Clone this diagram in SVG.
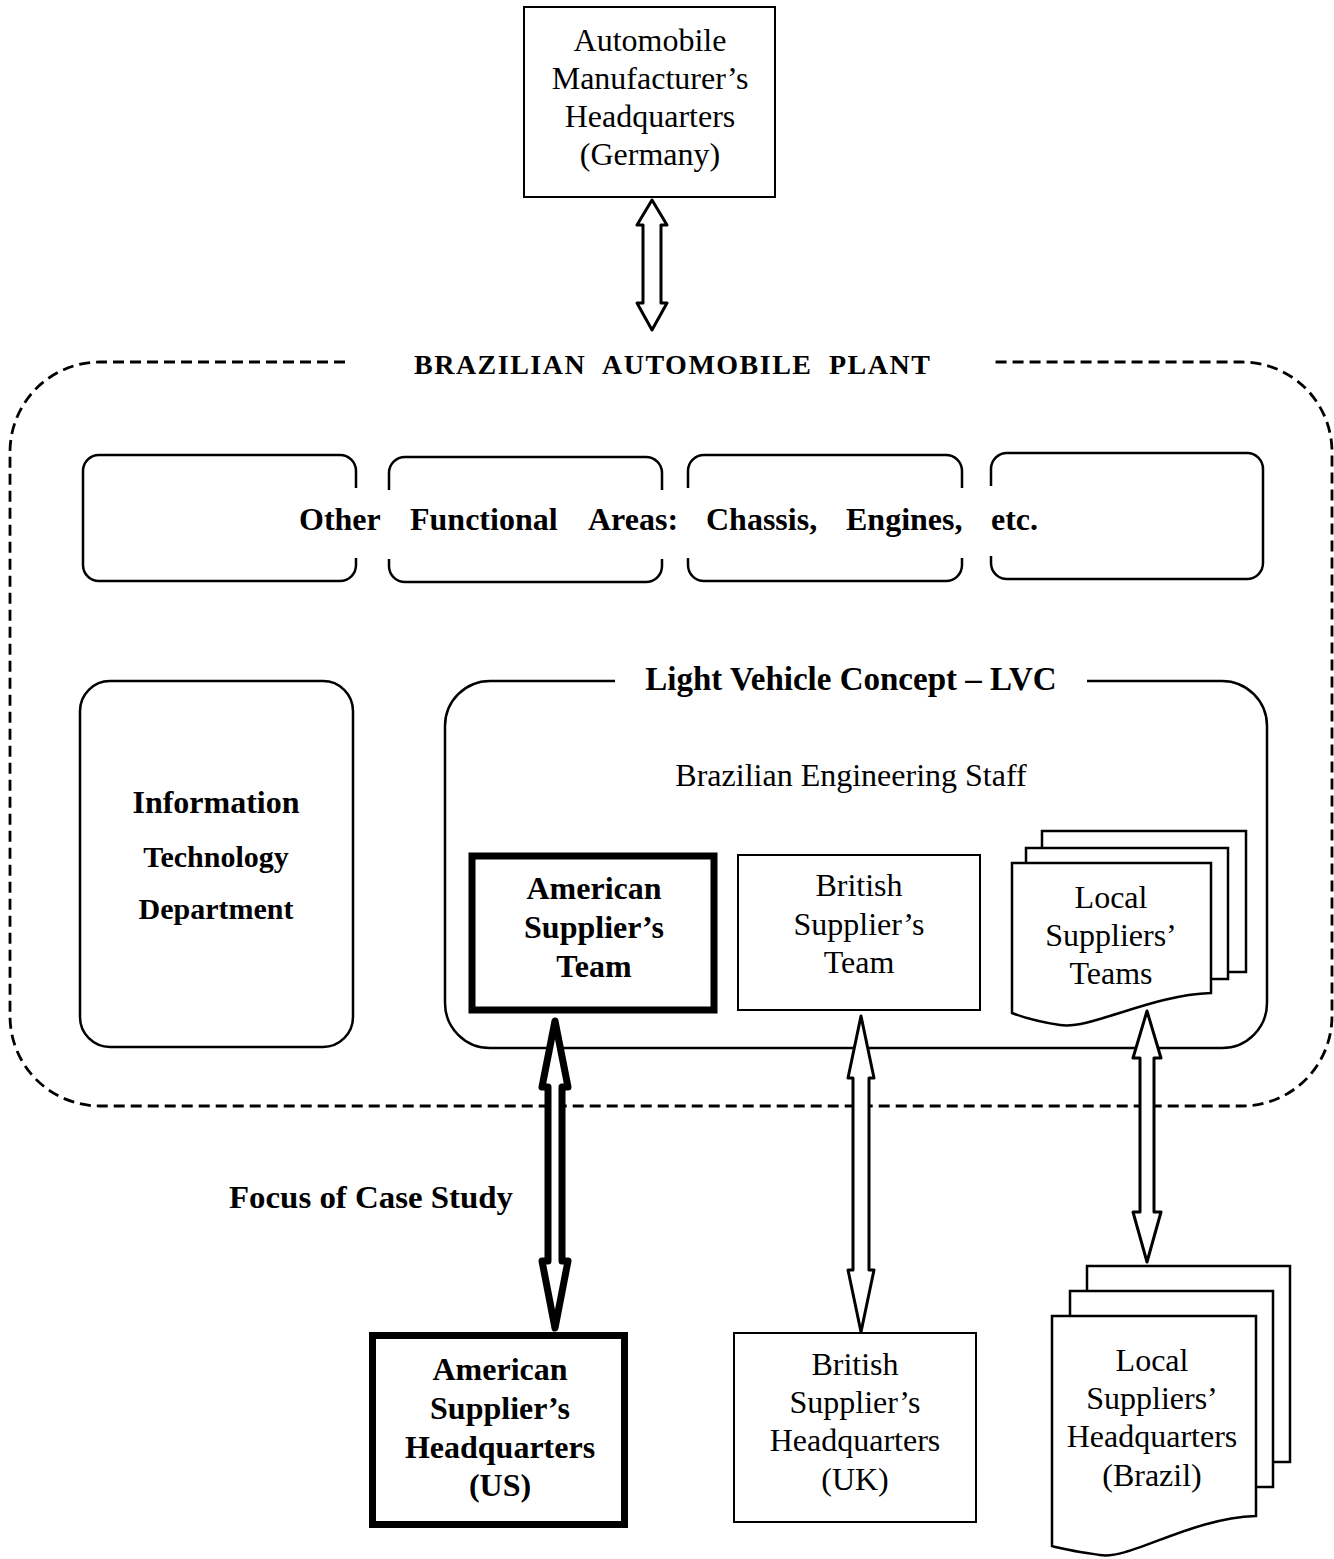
<svg xmlns="http://www.w3.org/2000/svg" width="1334" height="1559" viewBox="0 0 1334 1559">
<style>
text{font-family:"Liberation Serif","Times New Roman",serif;fill:#000;font-size:32px;text-anchor:middle}
.b{font-weight:bold}
.bx{fill:#fff;stroke:#000;stroke-width:2.5}
.ln{fill:none;stroke:#000;stroke-width:2.5}
.arr{fill:#fff;stroke:#000;stroke-width:3;stroke-linejoin:round}
.thick{fill:#fff;stroke:#000;stroke-width:7;stroke-linejoin:round}
.dash{fill:none;stroke:#000;stroke-width:2.8;stroke-dasharray:11 6}
</style>
<rect x="0" y="0" width="1334" height="1559" fill="#fff"/>

<g id="plant">
<path class="dash" d="M345,362 H100 A90,90 0 0 0 10,452 V1016 A90,90 0 0 0 100,1106 H1242 A90,90 0 0 0 1332,1016 V452 A90,90 0 0 0 1242,362 H995"/>
<text class="b" style="font-size:28px;letter-spacing:1.5px;text-anchor:start" y="374"><tspan x="414">BRAZILIAN</tspan><tspan x="602">AUTOMOBILE</tspan><tspan x="829">PLANT</tspan></text>
</g>

<g id="germany-hq">
<rect class="bx" x="524" y="7" width="251" height="190" style="stroke-width:2"/>
<text x="650" y="51">Automobile</text>
<text x="650" y="89">Manufacturer’s</text>
<text x="650" y="127">Headquarters</text>
<text x="650" y="165">(Germany)</text>
</g>

<g id="other-areas">
<path class="ln" d="M356,488 V471 A16,16 0 0 0 340,455 H99 A16,16 0 0 0 83,471 V565 A16,16 0 0 0 99,581 H340 A16,16 0 0 0 356,565 V558"/>
<path class="ln" d="M389,490 V473 A16,16 0 0 1 405,457 H646 A16,16 0 0 1 662,473 V490 M389,559 V566 A16,16 0 0 0 405,582 H646 A16,16 0 0 0 662,566 V559"/>
<path class="ln" d="M688,488 V471 A16,16 0 0 1 704,455 H946 A16,16 0 0 1 962,471 V488 M688,558 V565 A16,16 0 0 0 704,581 H946 A16,16 0 0 0 962,565 V558"/>
<path class="ln" d="M991,486 V469 A16,16 0 0 1 1007,453 H1247 A16,16 0 0 1 1263,469 V563 A16,16 0 0 1 1247,579 H1007 A16,16 0 0 1 991,563 V556"/>
<text class="b" style="text-anchor:start" y="530"><tspan x="299">Other</tspan><tspan x="410">Functional</tspan><tspan x="588">Areas:</tspan><tspan x="706">Chassis,</tspan><tspan x="846">Engines,</tspan><tspan x="991">etc.</tspan></text>
</g>

<g id="it-department">
<rect class="bx" x="80" y="681" width="273" height="366" rx="30"/>
<text class="b" x="216" y="813">Information</text>
<text class="b" x="216" y="867" style="font-size:30px">Technology</text>
<text class="b" x="216" y="919" style="font-size:30px">Department</text>
</g>

<g id="lvc">
<path class="ln" d="M615,681 H490 A45,45 0 0 0 445,726 V1003 A45,45 0 0 0 490,1048 H1222 A45,45 0 0 0 1267,1003 V726 A45,45 0 0 0 1222,681 H1087"/>
<text class="b" x="851" y="690" style="font-size:33px">Light Vehicle Concept – LVC</text>
<text x="851" y="786">Brazilian Engineering Staff</text>
</g>

<g id="american-team">
<rect x="472" y="856" width="242" height="154" fill="#fff" stroke="#000" stroke-width="7"/>
<text class="b" x="594" y="899">American</text>
<text class="b" x="594" y="938">Supplier’s</text>
<text class="b" x="594" y="977">Team</text>
</g>

<g id="british-team">
<rect class="bx" x="738" y="855" width="242" height="155" style="stroke-width:2"/>
<text x="859" y="896">British</text>
<text x="859" y="935">Supplier’s</text>
<text x="859" y="973">Team</text>
</g>

<g id="local-teams">
<rect class="bx" x="1042" y="831" width="204" height="141"/>
<rect class="bx" x="1026" y="848" width="202" height="131"/>
<path class="bx" d="M1012,863 H1211 V993 C1150,995 1090,1030 1060,1025 C1040,1022 1025,1018 1012,1013 Z"/>
<text x="1111" y="908">Local</text>
<text x="1111" y="946">Suppliers’</text>
<text x="1111" y="984">Teams</text>
</g>

<g id="focus-label">
<text class="b" x="229" y="1208" style="text-anchor:start" textLength="284" lengthAdjust="spacingAndGlyphs">Focus of Case Study</text>
</g>

<g id="american-hq">
<rect x="372.5" y="1335.5" width="252" height="189" fill="#fff" stroke="#000" stroke-width="7"/>
<text class="b" x="500" y="1380">American</text>
<text class="b" x="500" y="1419">Supplier’s</text>
<text class="b" x="500" y="1458">Headquarters</text>
<text class="b" x="500" y="1496">(US)</text>
</g>

<g id="british-hq">
<rect class="bx" x="734" y="1333" width="242" height="189" style="stroke-width:2"/>
<text x="855" y="1375">British</text>
<text x="855" y="1413">Supplier’s</text>
<text x="855" y="1451">Headquarters</text>
<text x="855" y="1490">(UK)</text>
</g>

<g id="local-hq">
<rect class="bx" x="1087" y="1266" width="203" height="196"/>
<rect class="bx" x="1070" y="1291" width="203" height="196"/>
<path class="bx" d="M1052,1316 H1256 V1516 C1190,1518 1130,1560 1100,1555 C1080,1552 1065,1550 1052,1546 Z"/>
<text x="1152" y="1371">Local</text>
<text x="1152" y="1409">Suppliers’</text>
<text x="1152" y="1447">Headquarters</text>
<text x="1152" y="1486">(Brazil)</text>
</g>

<g id="connectors">
<polygon class="arr" points="652,200 637,225 643,225 643,303 637,303 652,330 667,303 661,303 661,225 667,225"/>
<polygon class="thick" points="555,1021 542,1087 548,1087 548,1261 542,1261 555,1328 568,1261 562,1261 562,1087 568,1087"/>
<polygon class="arr" points="861,1016 848,1078 853,1078 853,1270 848,1270 861,1332 874,1270 869,1270 869,1078 874,1078"/>
<polygon class="arr" points="1147,1011 1133,1058 1140,1058 1140,1212 1133,1212 1147,1262 1161,1212 1154,1212 1154,1058 1161,1058"/>
</g>
</svg>
